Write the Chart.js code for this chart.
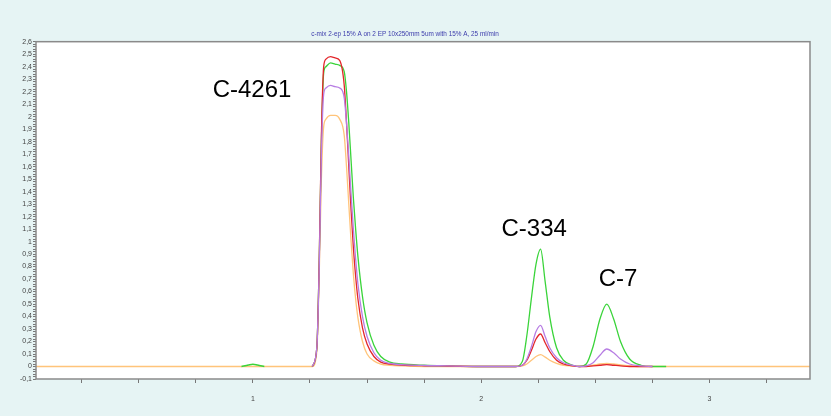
<!DOCTYPE html>
<html>
<head>
<meta charset="utf-8">
<script src="https://cdn.jsdelivr.net/npm/chart.js@4.4.1/dist/chart.umd.min.js"></script>
<style>
  html, body { margin: 0; padding: 0; background: #e6f4f4; }
  #wrap { width: 831px; height: 416px; }
</style>
</head>
<body>
<div id="wrap"><canvas id="chrom" width="831" height="416"></canvas></div>
<script>
// retention time (x) shared by all traces
const times = [
  0.05, 0.9, 0.95, 0.98, 1.0, 1.02, 1.05, 1.1, 1.2,
  1.26, 1.28, 1.29, 1.30, 1.31, 1.32, 1.34, 1.36, 1.38, 1.40, 1.41, 1.42,
  1.43, 1.44, 1.45, 1.46, 1.48, 1.50, 1.53, 1.56, 1.60, 1.65, 1.75, 1.85,
  2.0, 2.10, 2.15, 2.18, 2.20, 2.22, 2.24, 2.26, 2.28, 2.30, 2.33, 2.36, 2.40, 2.43,
  2.46, 2.49, 2.52, 2.55, 2.58, 2.61, 2.65, 2.70, 2.75, 2.81, 3.44
];

// detector traces
const redTrace = [
  null, null, null, null, null, null, null, null, null,
  0, 0.15, 0.8, 1.85, 2.4, 2.46, 2.48, 2.47, 2.45, 2.25, 1.95, 1.6,
  1.25, 0.95, 0.72, 0.54, 0.31, 0.18, 0.08, 0.035, 0.02, 0.012, 0.006, 0.004,
  0, 0, 0, 0.01, 0.05, 0.13, 0.22, 0.26, 0.19, 0.12, 0.05, 0.02, 0.005, 0,
  0, 0.005, 0.01, 0.015, 0.01, 0.005, 0, 0, 0, null, null
];
const violetTrace = [
  null, null, null, null, null, null, null, null, null,
  0, 0.15, 0.75, 1.7, 2.18, 2.23, 2.25, 2.24, 2.23, 2.15, 1.95, 1.68,
  1.38, 1.1, 0.86, 0.66, 0.4, 0.24, 0.11, 0.05, 0.025, 0.015, 0.008, 0.005,
  0, 0, 0, 0.01, 0.06, 0.16, 0.28, 0.33, 0.24, 0.15, 0.07, 0.03, 0.01, 0,
  0.005, 0.03, 0.09, 0.14, 0.11, 0.06, 0.02, 0.005, 0, null, null
];
const greenTrace = [
  null, null, 0, 0.012, 0.018, 0.012, 0, null, null,
  0, 0.15, 0.8, 1.8, 2.35, 2.40, 2.43, 2.42, 2.41, 2.36, 2.2, 1.95,
  1.65, 1.35, 1.1, 0.88, 0.56, 0.35, 0.17, 0.08, 0.035, 0.02, 0.01, 0.005,
  0, 0, 0, 0.04, 0.25, 0.55, 0.82, 0.94, 0.68, 0.4, 0.15, 0.05, 0.01, 0,
  0.02, 0.16, 0.38, 0.50, 0.38, 0.2, 0.06, 0.01, 0, 0, null
];
const orangeTrace = [
  0, 0, 0, 0, 0, 0, 0, 0, 0,
  0, 0.12, 0.7, 1.5, 1.92, 1.98, 2.01, 2.01, 1.98, 1.85, 1.6, 1.3,
  1.0, 0.74, 0.54, 0.39, 0.2, 0.1, 0.045, 0.02, 0.01, 0.005, 0, 0,
  0, 0, 0, 0.005, 0.02, 0.05, 0.08, 0.095, 0.075, 0.05, 0.025, 0.01, 0.004, 0,
  0.004, 0.01, 0.02, 0.025, 0.02, 0.012, 0.005, 0, 0, 0, 0
];

// peak names and where they sit (data units)
const peakNames = ['C-4261', 'C-334', 'C-7'];
const peakLabelX = [0.996, 2.232, 2.599];
const peakLabelY = [2.21, 1.10, 0.70];

const titleText = 'c-mix 2-ep 15% A on 2 EP 10x250mm 5um with 15% A, 25 ml/min';

function toPoints(vals) {
  return times.map((t, i) => ({ x: t, y: vals[i] }));
}

function trace(vals, color, order) {
  return {
    data: toPoints(vals),
    borderColor: color,
    borderWidth: 1.3,
    pointRadius: 0,
    fill: false,
    spanGaps: false,
    cubicInterpolationMode: 'monotone',
    order: order
  };
}

// white plot area + grey frame
const frame = {
  id: 'frame',
  beforeDraw(chart) {
    const { ctx, chartArea: a } = chart;
    ctx.save();
    ctx.fillStyle = '#e6f4f4';
    ctx.fillRect(0, 0, chart.width, chart.height);
    ctx.fillStyle = '#ffffff';
    ctx.fillRect(a.left, a.top, a.right - a.left, a.bottom - a.top);
    ctx.restore();
  },
  afterDraw(chart) {
    const { ctx, chartArea: a } = chart;
    ctx.save();
    ctx.strokeStyle = '#8a8a8a';
    ctx.lineWidth = 1.5;
    ctx.strokeRect(a.left, a.top, a.right - a.left, a.bottom - a.top);
    ctx.restore();
  }
};

// peak name labels
const peakText = {
  id: 'peakText',
  afterDatasetsDraw(chart) {
    const { ctx, scales } = chart;
    ctx.save();
    ctx.fillStyle = '#000';
    ctx.font = '24px "Liberation Sans", Arial, sans-serif';
    ctx.textAlign = 'center';
    ctx.textBaseline = 'middle';
    peakNames.forEach((name, i) => {
      ctx.fillText(name, scales.x.getPixelForValue(peakLabelX[i]), scales.y.getPixelForValue(peakLabelY[i]));
    });
    ctx.restore();
  }
};

const tickFont = { family: '"Liberation Sans", Arial, sans-serif', size: 7 };
const hiddenGrid = { display: true, drawOnChartArea: false, drawTicks: true, color: 'rgba(0,0,0,0)', tickColor: '#777' };

new Chart(document.getElementById('chrom'), {
  type: 'line',
  data: {
    datasets: [
      trace(violetTrace, '#b77de3', 0),
      trace(redTrace, '#e3262b', 1),
      trace(greenTrace, '#3ad43a', 2),
      trace(orangeTrace, '#ffc47a', 3)
    ]
  },
  options: {
    responsive: false,
    animation: false,
    layout: { padding: { left: 0, right: 21, top: 0, bottom: 0 } },
    plugins: {
      legend: { display: false },
      tooltip: { enabled: false },
      title: {
        display: true,
        text: titleText,
        color: '#3b3bab',
        font: { family: '"Liberation Sans", Arial, sans-serif', size: 6.4, weight: 'normal' },
        padding: { top: 30, bottom: 4 }
      }
    },
    scales: {
      x: {
        type: 'linear',
        min: 0.05,
        max: 3.44,
        border: { display: false },
        grid: Object.assign({}, hiddenGrid, { tickLength: 4 }),
        ticks: {
          stepSize: 0.25,
          includeBounds: false,
          autoSkip: false,
          maxRotation: 0,
          padding: 12,
          color: '#444',
          font: tickFont,
          callback: v => (Math.abs(v - Math.round(v)) < 1e-6 ? String(Math.round(v)) : '')
        },
        afterFit(s) { s.height = 37; }
      },
      y: {
        type: 'linear',
        min: -0.1,
        max: 2.6,
        border: { display: false },
        grid: Object.assign({}, hiddenGrid, { tickLength: 3 }),
        ticks: {
          stepSize: 0.02,
          autoSkip: false,
          padding: 1,
          color: '#444',
          font: tickFont,
          callback: v => {
            const h = Math.round(v * 100);
            if (h % 10 !== 0) return '';
            return String(h / 100).replace('.', ',');
          }
        },
        afterFit(s) { s.width = 36; }
      }
    }
  },
  plugins: [frame, peakText]
});
</script>
</body>
</html>
